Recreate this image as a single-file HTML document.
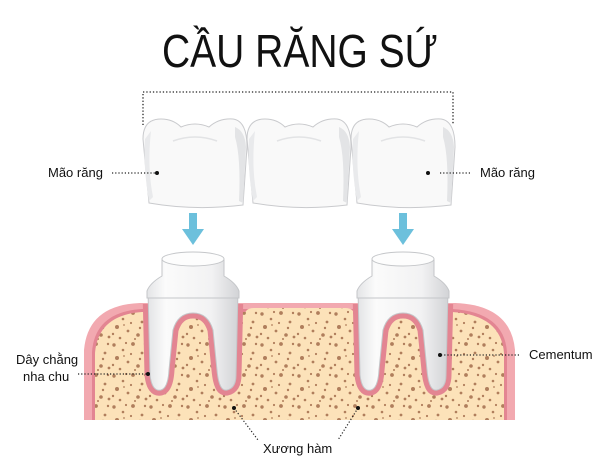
<!DOCTYPE html>
<html><head><meta charset="utf-8"><style>
html,body{margin:0;padding:0;background:#fff;}
svg{display:block;}
text{font-family:"Liberation Sans",sans-serif;fill:#111;}
</style></head><body>
<svg width="600" height="462" viewBox="0 0 600 462" xmlns="http://www.w3.org/2000/svg">
<defs>
<pattern id="dots" width="37" height="31" patternUnits="userSpaceOnUse">
<rect width="37" height="31" fill="#fce2b9"/>
<g fill="#b07e5c">
<circle cx="3" cy="4" r="1.7"/><circle cx="12" cy="9" r="1.3"/><circle cx="22" cy="3" r="1.9"/><circle cx="31" cy="12" r="1.4"/>
<circle cx="6" cy="17" r="2"/><circle cx="17" cy="21" r="1.4"/><circle cx="27" cy="25" r="1.8"/><circle cx="34" cy="3" r="1.2"/>
<circle cx="9" cy="28" r="1.3"/><circle cx="20" cy="13" r="1.1"/><circle cx="29" cy="18" r="1.2"/><circle cx="2" cy="24" r="1.2"/>
<circle cx="15" cy="2" r="1.1"/><circle cx="35" cy="27" r="1.4"/><circle cx="24" cy="29" r="1"/><circle cx="13" cy="15" r="0.9"/>
</g>
</pattern>
<linearGradient id="tg" x1="0" x2="1">
<stop offset="0" stop-color="#e3e4e6"/><stop offset="0.2" stop-color="#fbfbfb"/><stop offset="0.7" stop-color="#f2f2f3"/><stop offset="1" stop-color="#d2d3d6"/>
</linearGradient>
<clipPath id="below"><rect x="0" y="304" width="600" height="200"/></clipPath>
<g id="crown">
<path d="M0,22 Q0,2 18,2 Q30,2 38,10 Q52,4 66,10 Q76,1 90,2 Q104,4 104,30 L100,88 Q52,94 6,86 Z" fill="#f9f9f9" stroke="#c9cacd" stroke-width="1"/>
<path d="M92,20 Q98,40 96,84 L100,86 L103,30 Q102,14 92,10 Z" fill="#e3e4e6"/>
<path d="M8,14 Q4,50 10,80 L6,84 Q0,50 2,22 Z" fill="#e9eaec"/>
<path d="M30,24 Q52,16 74,24" fill="none" stroke="#e2e3e5" stroke-width="1.5"/>
</g>
<g id="toothA">
<path d="M148,290 L150,375 Q152,392 161,390 Q168,388 169,370 L173,330 Q178,313 193,313 Q208,313 213,330 L217,370 Q219,392 227,390 Q236,388 236,375 L238,290 Z" fill="none" stroke="#e38592" stroke-width="11" stroke-linejoin="round" clip-path="url(#below)"/>
<path d="M148,290 L150,375 Q152,392 161,390 Q168,388 169,370 L173,330 Q178,313 193,313 Q208,313 213,330 L217,370 Q219,392 227,390 Q236,388 236,375 L238,290 Z" fill="url(#tg)" stroke="#c4c6c9" stroke-width="1"/>
<path d="M162,260 L162,276 Q150,283 147,291 L147,298 L239,298 L239,291 Q236,283 224,276 L224,260 Z" fill="url(#tg)" stroke="#c4c6c9" stroke-width="1"/>
<ellipse cx="193" cy="259" rx="31" ry="7" fill="#fdfdfd" stroke="#c4c6c9" stroke-width="1"/>
</g>
</defs>

<text x="300" y="67" text-anchor="middle" font-size="46" textLength="276" lengthAdjust="spacingAndGlyphs">CẦU RĂNG SỨ</text>

<path d="M143,125 L143,92 L453,92 L453,125" fill="none" stroke="#222" stroke-width="1.3" stroke-dasharray="1.3,2"/>

<use href="#crown" x="143" y="117"/>
<use href="#crown" x="247" y="117"/>
<use href="#crown" x="351" y="117"/>

<g fill="#6cc0dc">
<rect x="189" y="213" width="8" height="18"/><path d="M182,229 L204,229 L193,245 Z"/>
<rect x="399" y="213" width="8" height="18"/><path d="M392,229 L414,229 L403,245 Z"/>
</g>

<path d="M84,420 L84,350 Q88,305 140,303 L455,303 Q511,305 515,350 L515,420 Z" fill="#f2a9b0"/>
<path d="M92,420 L92,352 Q95,312 142,309 L452,309 Q504,312 507,352 L507,420 Z" fill="#e38592"/>
<path d="M95,420 L95,353 Q98,315 142,312 L452,312 Q501,315 504,353 L504,420 Z" fill="url(#dots)"/>
<path d="M244,420 L244,318 Q244,308 254,308 L345,308 Q355,308 355,318 L355,420 Z" fill="url(#dots)"/>

<use href="#toothA"/>
<use href="#toothA" x="210"/>

<g fill="none" stroke="#222" stroke-width="1.2" stroke-dasharray="1.2,2">
<path d="M112,173 L157,173"/>
<path d="M440,173 L472,173"/>
<path d="M78,374 L148,374"/>
<path d="M441,355 L520,355"/>
<path d="M234,408 L258,440"/>
<path d="M358,408 L338,440"/>
</g>
<g fill="#111">
<circle cx="157" cy="173" r="2"/><circle cx="428" cy="173" r="2"/>
<circle cx="148" cy="374" r="2"/><circle cx="440" cy="355" r="2"/>
<circle cx="234" cy="408" r="2"/><circle cx="358" cy="408" r="2"/>
</g>

<text x="48" y="177" font-size="13">Mão răng</text>
<text x="480" y="177" font-size="13">Mão răng</text>
<text x="16" y="364" font-size="13">Dây chằng</text>
<text x="23" y="381" font-size="13">nha chu</text>
<text x="529" y="359" font-size="13">Cementum</text>
<text x="263" y="453" font-size="13">Xương hàm</text>
</svg>
</body></html>
